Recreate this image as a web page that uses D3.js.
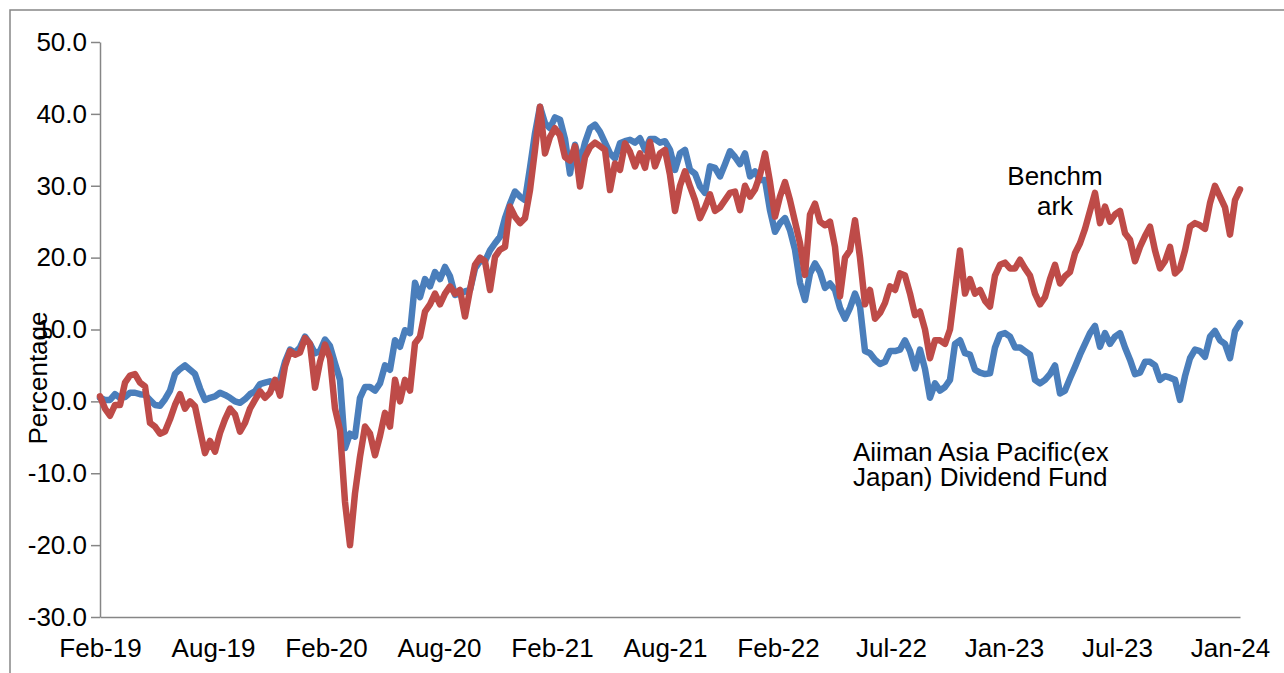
<!DOCTYPE html>
<html>
<head>
<meta charset="utf-8">
<script src="https://cdn.jsdelivr.net/npm/d3@7/dist/d3.min.js"></script>
<style>
html,body{margin:0;padding:0;background:#fff;}
svg{display:block;}
text{font-family:"Liberation Sans",Arial,sans-serif;fill:#000;}
</style>
</head>
<body>
<svg id="chart" width="1284" height="673"></svg>
<script>
// ---- data ----
const xLabels = ["Feb-19","Aug-19","Feb-20","Aug-20","Feb-21","Aug-21","Feb-22","Jul-22","Jan-23","Jul-23","Jan-24"];
const labelEvery = 22.6; // samples between category labels
const yTicks = [-30,-20,-10,0,10,20,30,40,50];
const seriesNames = ["Aiiman Asia Pacific(ex Japan) Dividend Fund","Benchmark"];

const fund = [
0.5,0.2,0.2,1.0,0.5,0.6,1.2,1.2,1.0,0.9,
0.2,-0.5,-0.6,0.3,1.5,3.8,4.5,5.0,4.4,3.8,
1.8,0.2,0.5,0.7,1.2,0.9,0.5,0.0,-0.2,0.3,
1.0,1.4,2.4,2.6,2.8,2.0,3.0,5.5,7.2,6.8,
7.5,9.0,8.0,6.7,7.0,8.6,7.7,5.3,3.0,-6.5,
-4.5,-4.9,0.5,2.0,2.0,1.5,2.5,5.0,4.4,8.5,
7.6,9.9,9.5,16.5,14.5,17.0,16.0,18.0,17.0,18.7,
17.4,14.8,15.0,15.3,15.5,18.5,19.5,19.5,21.0,22.0,
22.9,25.5,27.5,29.2,28.5,28.0,32.5,37.3,41.0,38.7,
38.0,39.5,39.2,36.5,31.7,35.7,33.2,36.0,38.0,38.5,
37.5,36.0,34.5,33.8,35.9,36.2,36.4,36.0,36.6,35.0,
36.5,36.5,36.0,36.2,35.0,32.2,34.5,35.0,32.2,31.7,
29.9,29.0,32.7,32.5,31.3,33.0,34.8,34.0,33.0,34.5,
31.3,32.0,30.8,30.8,26.6,23.6,24.8,25.5,23.8,21.1,
16.5,14.1,17.8,19.2,18.0,15.8,16.4,15.5,13.0,11.5,
13.0,15.0,13.2,7.0,6.7,5.8,5.2,5.5,7.0,7.0,
7.2,8.5,7.0,4.6,7.2,4.5,0.5,2.5,1.5,2.0,
3.0,8.0,8.5,6.7,6.5,4.4,4.0,3.8,3.9,7.5,
9.3,9.5,9.0,7.5,7.5,7.0,6.5,3.0,2.5,3.0,
3.8,5.0,1.1,1.5,3.2,4.8,6.5,8.0,9.5,10.5,
7.6,9.5,8.0,9.0,9.5,7.5,5.8,3.8,4.0,5.5,
5.5,5.0,3.0,3.5,3.3,3.0,0.2,3.5,6.0,7.2,
7.0,6.2,9.0,9.8,8.5,8.0,6.0,9.8,10.9
];

const benchmark = [
0.7,-1.0,-2.0,-0.5,-0.5,2.6,3.6,3.8,2.6,2.1,
-3.0,-3.5,-4.5,-4.2,-2.5,-0.5,1.0,-1.0,0.0,-0.7,
-4.0,-7.2,-5.5,-7.0,-4.4,-2.5,-1.0,-1.8,-4.2,-3.0,
-1.0,0.2,1.4,0.5,1.2,3.0,0.8,4.9,7.0,6.5,
6.8,8.8,8.0,1.9,5.5,7.9,6.0,-1.0,-4.0,-14.0,
-20.0,-12.8,-7.7,-3.5,-4.5,-7.5,-4.8,-1.6,-3.5,3.0,
0.0,3.0,1.5,8.1,9.0,12.5,13.5,15.0,13.5,15.0,
16.0,15.0,15.5,11.8,15.5,19.0,20.0,19.5,15.5,20.1,
21.1,21.5,27.1,25.7,24.8,25.5,29.4,35.0,41.0,34.5,
36.8,38.0,37.0,34.0,33.5,35.5,29.9,34.0,35.4,36.0,
35.5,35.0,29.4,33.1,32.2,35.9,34.7,32.7,34.5,32.5,
36.1,32.7,34.5,35.0,31.5,26.5,30.0,32.0,29.9,28.0,
25.5,27.0,28.8,26.5,27.0,28.0,29.0,29.2,26.6,30.0,
28.5,29.5,31.5,34.5,30.5,25.7,28.5,30.5,28.0,25.0,
22.0,17.6,26.0,27.5,25.0,24.5,25.0,21.5,14.6,20.0,
21.0,25.2,20.0,13.5,15.5,11.5,12.3,13.7,16.0,15.5,
17.8,17.5,15.0,12.0,12.5,10.0,6.0,8.5,8.5,8.0,
10.0,15.5,21.0,15.0,17.0,15.0,15.5,14.0,13.2,17.5,
19.0,19.3,18.5,18.5,19.7,18.5,17.5,15.0,13.5,14.5,
17.0,19.0,16.4,17.4,18.0,20.6,22.0,24.0,26.5,29.0,
24.8,27.1,25.0,26.0,26.5,23.4,22.5,19.5,21.5,23.0,
24.3,21.0,18.5,19.5,21.5,17.8,18.5,21.0,24.3,24.8,
24.5,24.0,27.6,30.0,28.5,27.0,23.2,28.0,29.5
];

// ---- layout ----
const svg = d3.select("#chart");
const plotLeft = 100, plotRight = 1240, plotTop = 42, plotBottom = 617;
const axisColor = "#868686";
const fundColor = "#4A7EBB", benchColor = "#BE4B48";
const fontSize = 26;

// outer frame
svg.append("rect").attr("x",10).attr("y",10).attr("width",1320).attr("height",700)
  .attr("fill","none").attr("stroke",axisColor).attr("stroke-width",1.5);

const x = d3.scaleLinear().domain([0, fund.length - 1]).range([plotLeft, plotRight]);
const y = d3.scaleLinear().domain([-30, 50]).range([plotBottom, plotTop]);

// y axis
const yAxis = svg.append("g").attr("transform",`translate(${plotLeft},0)`)
  .call(d3.axisLeft(y).tickValues(yTicks).tickFormat(d => d.toFixed(1)).tickSize(9).tickSizeOuter(0).tickPadding(4));
yAxis.select(".domain").attr("stroke",axisColor).attr("stroke-width",1.5);
yAxis.selectAll(".tick line").attr("stroke",axisColor).attr("stroke-width",1.5);
yAxis.selectAll(".tick text").attr("font-size",fontSize).attr("font-family","Liberation Sans, Arial, sans-serif").attr("fill","#000");

// x axis
const xAxis = svg.append("g").attr("transform",`translate(0,${plotBottom})`)
  .call(d3.axisBottom(x).tickValues(xLabels.map((_,i)=>i*labelEvery)).tickFormat((d,i)=>xLabels[i]).tickSize(0).tickSizeOuter(0).tickPadding(22));
xAxis.select(".domain").attr("stroke",axisColor).attr("stroke-width",1.5);
xAxis.selectAll(".tick text").attr("font-size",fontSize).attr("font-family","Liberation Sans, Arial, sans-serif").attr("fill","#000");

// lines
const line = d3.line().x((d,i)=>x(i)).y(d=>y(d)).curve(d3.curveLinear);
svg.append("path").datum(fund).attr("d",line).attr("fill","none")
  .attr("stroke",fundColor).attr("stroke-width",6.5).attr("stroke-linejoin","round").attr("stroke-linecap","round");
svg.append("path").datum(benchmark).attr("d",line).attr("fill","none")
  .attr("stroke",benchColor).attr("stroke-width",6.5).attr("stroke-linejoin","round").attr("stroke-linecap","round");

// y title
svg.append("text").attr("transform","translate(47,378) rotate(-90)")
  .attr("text-anchor","middle").attr("font-size",fontSize).text("Percentage");

// series labels
const bl = svg.append("text").attr("font-size",fontSize).attr("text-anchor","middle");
bl.append("tspan").attr("x",1055).attr("y",185).text("Benchm");
bl.append("tspan").attr("x",1055).attr("y",215).text("ark");

const fl = svg.append("text").attr("font-size",fontSize).attr("text-anchor","start");
fl.append("tspan").attr("x",853).attr("y",461).text("Aiiman Asia Pacific(ex");
fl.append("tspan").attr("x",853).attr("y",486).text("Japan) Dividend Fund");
</script>
</body>
</html>
